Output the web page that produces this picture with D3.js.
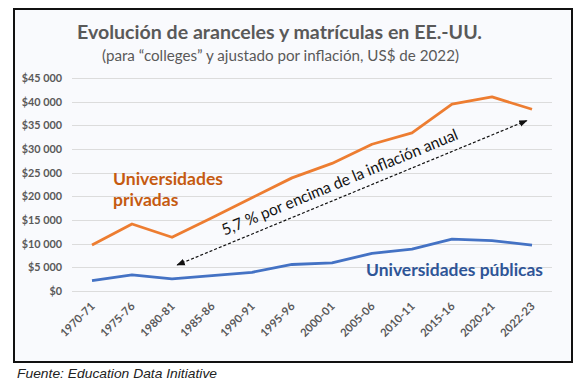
<!DOCTYPE html>
<html><head><meta charset="utf-8">
<script src="https://cdn.jsdelivr.net/npm/d3@7"></script>
<style>
html,body{margin:0;padding:0;background:#fff;}
svg{display:block;}
</style></head>
<body>
<svg id="c" width="576" height="381"></svg>
<script>
const categories = ["1970-71","1975-76","1980-81","1985-86","1990-91","1995-96","2000-01","2005-06","2010-11","2015-16","2020-21","2022-23"];
const privadas = [9700, 14150, 11350, 15500, 19700, 23900, 26950, 31000, 33400, 39500, 41000, 38400];
const publicas = [2200, 3400, 2550, 3250, 3950, 5600, 5950, 7950, 8850, 10950, 10650, 9700];
const yTicks = [0, 5000, 10000, 15000, 20000, 25000, 30000, 35000, 40000, 45000];
const yTickLabels = ["$0","$5 000","$10 000","$15 000","$20 000","$25 000","$30 000","$35 000","$40 000","$45 000"];
const annotationIdx = [2.13, 10.87];
const annotationVal = [5500, 36000];

const svg = d3.select("#c");
const FONT = "Lato, 'Open Sans', sans-serif";
const GRAY = "#595959";

// frame
svg.append("rect").attr("x",14).attr("y",9).attr("width",558).attr("height",353)
  .attr("fill","#f9fafd").attr("stroke","#111").attr("stroke-width",2);

const x = d3.scalePoint().domain(categories).range([92,532]);
const xi = d3.scaleLinear().domain([0, categories.length-1]).range([92,532]);
const y = d3.scaleLinear().domain([0,45000]).range([291,78]);

// gridlines
svg.append("g").selectAll("line").data(yTicks).join("line")
  .attr("x1",72).attr("x2",552)
  .attr("y1",d=>Math.round(y(d))+0.5).attr("y2",d=>Math.round(y(d))+0.5)
  .attr("stroke","#dcdcdc").attr("stroke-width",1);

// y axis
const yAxis = d3.axisLeft(y).tickValues(yTicks).tickSize(0)
  .tickFormat((d,i)=>yTickLabels[i]);
const gy = svg.append("g").attr("transform","translate(64,0)").call(yAxis);
gy.select(".domain").remove();
gy.selectAll("text").attr("font-family",FONT).attr("font-size",10.8).attr("font-weight","bold")
  .attr("fill",GRAY).attr("x",-2);

// x axis
const xAxis = d3.axisBottom(x).tickSize(0);
const gx = svg.append("g").attr("transform","translate(0,291)").call(xAxis);
gx.select(".domain").remove();
gx.selectAll(".tick text").attr("font-family",FONT).attr("font-size",11.2).attr("font-weight","bold")
  .attr("fill",GRAY).attr("text-anchor","end").attr("dy",null).attr("y",null)
  .attr("transform","translate(3,16) rotate(-45)");

// lines
const line = d3.line().x((d,i)=>x(categories[i])).y(d=>y(d));
svg.append("path").datum(privadas).attr("d",line).attr("fill","none")
  .attr("stroke","#ED7D31").attr("stroke-width",2.8).attr("stroke-linejoin","round");
svg.append("path").datum(publicas).attr("d",line).attr("fill","none")
  .attr("stroke","#4472C4").attr("stroke-width",2.8).attr("stroke-linejoin","round");

// annotation arrow
const defs = svg.append("defs");
defs.append("marker").attr("id","ah").attr("viewBox","0 0 10 10").attr("refX",9).attr("refY",5)
  .attr("markerWidth",7).attr("markerHeight",7).attr("orient","auto-start-reverse")
  .append("path").attr("d","M0,1 L10,5 L0,9 Z").attr("fill","#111");
const x1 = xi(annotationIdx[0]), y1 = y(annotationVal[0]);
const x2 = xi(annotationIdx[1]), y2 = y(annotationVal[1]);
svg.append("line").attr("x1",x1).attr("y1",y1).attr("x2",x2).attr("y2",y2)
  .attr("stroke","#111").attr("stroke-width",1.2).attr("stroke-dasharray","3,2")
  .attr("marker-start","url(#ah)").attr("marker-end","url(#ah)");
const ang = Math.atan2(y2-y1, x2-x1)*180/Math.PI;
const t0 = 0.145;
const px = x1 + (x2-x1)*t0, py = y1 + (y2-y1)*t0;
svg.append("text").attr("transform",`translate(${px},${py}) rotate(${ang}) translate(0,-9)`)
  .attr("font-family",FONT).attr("font-size",16).attr("fill","#111")
  .attr("textLength",254).attr("lengthAdjust","spacingAndGlyphs")
  .text("5,7 % por encima de la inflación anual");

// series labels
const lp = svg.append("text").attr("font-family",FONT).attr("font-size",17.5).attr("font-weight","bold").attr("fill","#C55A11");
lp.append("tspan").attr("x",113).attr("y",185).attr("textLength",110).attr("lengthAdjust","spacingAndGlyphs").text("Universidades");
lp.append("tspan").attr("x",113).attr("y",206).text("privadas");
svg.append("text").attr("x",366).attr("y",276).attr("font-family",FONT).attr("font-size",17.5)
  .attr("font-weight","bold").attr("fill","#2F5597")
  .attr("textLength",177).attr("lengthAdjust","spacingAndGlyphs").text("Universidades públicas");

// titles
svg.append("text").attr("x",77).attr("y",39).attr("font-family",FONT).attr("font-size",19.5)
  .attr("font-weight","bold").attr("fill",GRAY)
  .attr("textLength",405).attr("lengthAdjust","spacingAndGlyphs")
  .text("Evolución de aranceles y matrículas en EE.-UU.");
svg.append("text").attr("x",102).attr("y",61).attr("font-family",FONT).attr("font-size",15.5)
  .attr("fill",GRAY).attr("textLength",357).attr("lengthAdjust","spacingAndGlyphs")
  .text("(para “colleges” y ajustado por inflación, US$ de 2022)");

// source
svg.append("text").attr("x",17).attr("y",378).attr("font-family","'Liberation Sans', Arial, sans-serif")
  .attr("font-size",13.5).attr("font-style","italic").attr("fill","#222")
  .attr("textLength",200).attr("lengthAdjust","spacingAndGlyphs")
  .text("Fuente: Education Data Initiative");
</script>
</body></html>
